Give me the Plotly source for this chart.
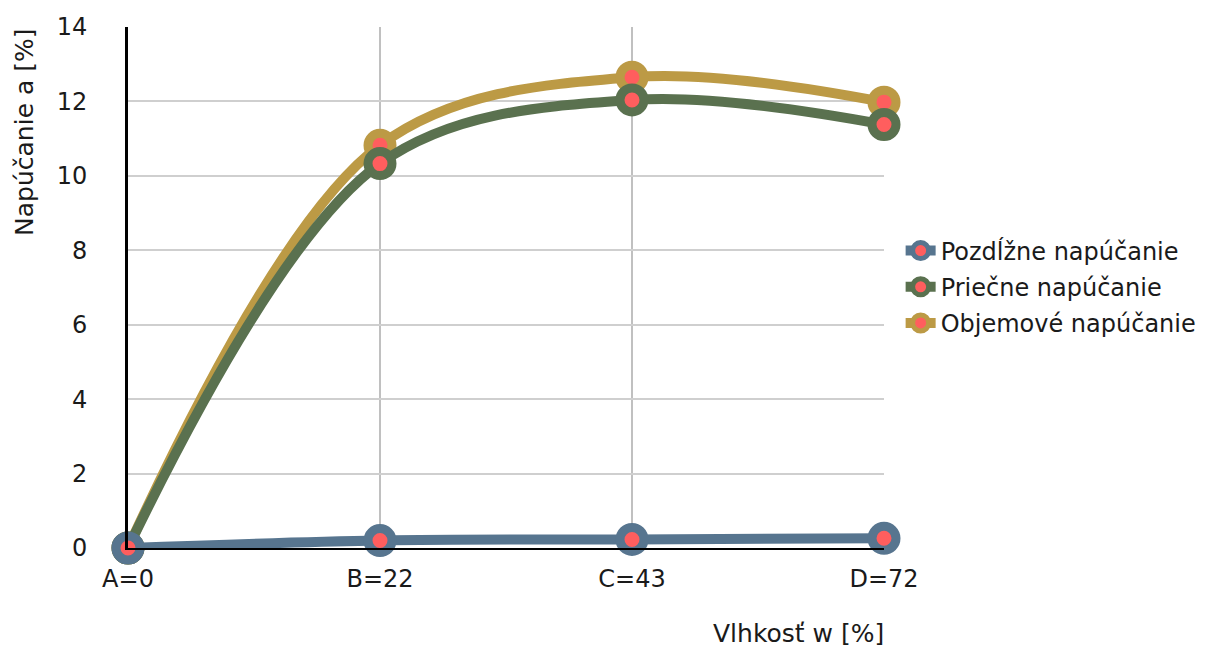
import plotly.graph_objects as go

# Moisture levels (categories) and swelling values in %
categories = ["A=0", "B=22", "C=43", "D=72"]
pozdlzne = [0.0, 0.2, 0.23, 0.26]
priecne = [0.0, 10.33, 12.04, 11.38]
objemove = [0.0, 10.82, 12.65, 11.98]

series_names = ["Pozdĺžne napúčanie", "Priečne napúčanie", "Objemové napúčanie"]
series_colors = ["#57758f", "#5a714f", "#bc9a45"]
dot_color = "#ff5e5e"

y_ticks = [0, 2, 4, 6, 8, 10, 12, 14]

FONT = "DejaVu Sans"
TXT = "#1a1a1a"

fig = go.Figure()
# draw volumetric first so transverse sits on top, longitudinal last
order = [2, 1, 0]
data = [pozdlzne, priecne, objemove]
for i in order:
    fig.add_trace(go.Scatter(
        x=categories,
        y=data[i],
        name=series_names[i],
        legendgroup=f"g{i}",
        mode="lines+markers",
        line=dict(color=series_colors[i], width=10, shape="spline", smoothing=1.0),
        marker=dict(size=24, color=dot_color, line=dict(color=series_colors[i], width=9)),
        legendrank=i + 1,
        cliponaxis=False,
    ))

fig.update_layout(
    width=1211,
    height=650,
    margin=dict(l=128, r=327, t=27, b=102, autoexpand=False),
    paper_bgcolor="white",
    plot_bgcolor="white",
    font=dict(family=FONT, size=24, color=TXT),
    showlegend=True,
    legend=dict(
        x=1.022, xanchor="left",
        y=0.501, yanchor="middle",
        font=dict(family=FONT, size=24, color=TXT),
        tracegroupgap=2,
        itemwidth=30,
        bgcolor="rgba(0,0,0,0)",
    ),
    xaxis=dict(
        type="category",
        range=[0, 3],
        showgrid=True,
        gridcolor="#c0c0c0",
        gridwidth=2,
        showline=True,
        linecolor="black",
        linewidth=2,
        zeroline=False,
        ticks="",
        ticklabelstandoff=8,
        tickfont=dict(family=FONT, size=24, color=TXT),
    ),
    yaxis=dict(
        range=[0, 14],
        tickvals=y_ticks,
        showgrid=True,
        gridcolor="#cfcfcf",
        gridwidth=1.5,
        showline=True,
        linecolor="black",
        linewidth=3,
        zeroline=False,
        ticks="",
        ticklabelstandoff=33,
        tickfont=dict(family=FONT, size=24, color=TXT),
    ),
    annotations=[
        dict(
            text="Napúčanie a [%]",
            xref="paper", yref="paper",
            x=-0.137, y=1.0,
            xanchor="center", yanchor="top",
            textangle=-90,
            showarrow=False,
            font=dict(family=FONT, size=25, color=TXT),
        ),
        dict(
            text="Vlhkosť w [%]",
            xref="paper", yref="paper",
            x=1.002, y=-0.196,
            xanchor="right", yanchor="bottom",
            showarrow=False,
            font=dict(family=FONT, size=25, color=TXT),
        ),
    ],
)

fig.write_html("out.html")
